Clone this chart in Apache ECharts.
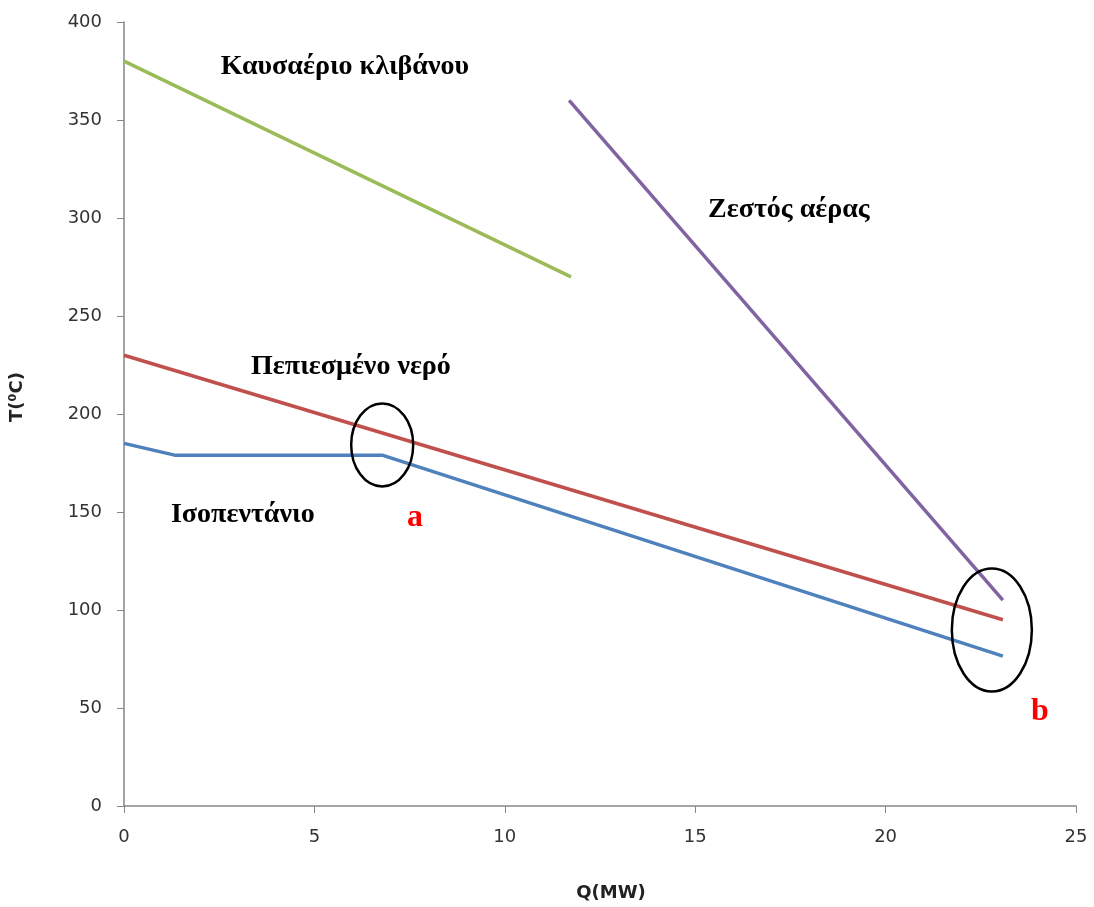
<!DOCTYPE html>
<html><head><meta charset="utf-8">
<script src="https://cdn.jsdelivr.net/npm/echarts@6/dist/echarts.min.js"></script>
<style>html,body{margin:0;padding:0;background:#fff}#c{width:1094px;height:907px}</style>
</head><body><div id="c"></div>
<script>
// Data (Q in MW, T in °C)
const gasQ = [0, 11.74];
const gasT = [380, 270];
const airQ = [11.69, 23.08];
const airT = [360, 105];
const waterQ = [0, 23.08];
const waterT = [230, 95];
const isoQ = [0, 1.33, 6.78, 23.08];
const isoT = [185, 179, 179, 76.5];
const xTicks = [0, 5, 10, 15, 20, 25];
const yTicks = [0, 50, 100, 150, 200, 250, 300, 350, 400];
// annotation labels [text, Q, T]
const labelNames = ['Καυσαέριο κλιβάνου', 'Ζεστός αέρας', 'Πεπιεσμένο νερό', 'Ισοπεντάνιο'];
const labelQ = [5.8, 17.46, 5.96, 3.12];
const labelT = [377, 304, 224, 148.5];
const markNames = ['a', 'b'];
const markQ = [7.64, 24.05];
const markT = [147, 48];
const ellipseQ = [6.78, 22.79];
const ellipseT = [184.2, 89.8];

const pts = (xs, ys) => xs.map((x, i) => [x, ys[i]]);
const chart = echarts.init(document.getElementById('c'));
const lineS = (name, color, data) => ({
  name, type: 'line', data, symbol: 'none', smooth: false,
  lineStyle: { color, width: 3.5 }, animation: false
});
chart.setOption({
  animation: false,
  grid: { left: 124, right: 18, top: 22, bottom: 101 },
  xAxis: {
    type: 'value', min: xTicks[0], max: xTicks[xTicks.length - 1], interval: 5,
    axisLine: { show: true, onZero: false, lineStyle: { color: '#868686', width: 1.5 } },
    axisTick: { show: true, length: 7, lineStyle: { color: '#868686' } },
    axisLabel: { color: '#333', fontSize: 18, fontFamily: 'DejaVu Sans', margin: 22 },
    splitLine: { show: false },
    name: 'Q(MW)', nameLocation: 'middle', nameGap: 78,
    nameTextStyle: { fontSize: 18, fontWeight: 'bold', color: '#222', fontFamily: 'DejaVu Sans', padding: [0, 0, 0, 22] }
  },
  yAxis: {
    type: 'value', min: yTicks[0], max: yTicks[yTicks.length - 1], interval: 50,
    axisLine: { show: true, lineStyle: { color: '#868686', width: 1.5 } },
    axisTick: { show: true, length: 7, lineStyle: { color: '#868686' } },
    axisLabel: { color: '#333', fontSize: 18, fontFamily: 'DejaVu Sans', margin: 22 },
    splitLine: { show: false },
    name: 'T(⁰C)', nameLocation: 'middle', nameGap: 98, nameRotate: 90,
    nameTextStyle: { fontSize: 18, fontWeight: 'bold', color: '#222', fontFamily: 'DejaVu Sans', padding: [0, 0, 0, 34] }
  },
  series: [
    lineS('gas', '#9BBB59', pts(gasQ, gasT)),
    lineS('air', '#8064A2', pts(airQ, airT)),
    lineS('water', '#C0504D', pts(waterQ, waterT)),
    lineS('iso', '#4F81BD', pts(isoQ, isoT))
  ]
});
const g = [];
labelNames.forEach((t, i) => {
  const p = chart.convertToPixel({ gridIndex: 0 }, [labelQ[i], labelT[i]]);
  g.push({ type: 'text', x: p[0], y: p[1], style: { text: t, fill: '#000', font: 'bold 28px "Liberation Serif"', align: 'center', verticalAlign: 'middle' } });
});
markNames.forEach((t, i) => {
  const p = chart.convertToPixel({ gridIndex: 0 }, [markQ[i], markT[i]]);
  g.push({ type: 'text', x: p[0], y: p[1], style: { text: t, fill: '#FF0000', font: 'bold 32px "Liberation Serif"', align: 'center', verticalAlign: 'middle' } });
});
const radii = [[31, 41.5], [40, 61.5]];
ellipseQ.forEach((q, i) => {
  const p = chart.convertToPixel({ gridIndex: 0 }, [q, ellipseT[i]]);
  g.push({ type: 'ellipse', shape: { cx: p[0], cy: p[1], rx: radii[i][0], ry: radii[i][1] }, style: { fill: null, stroke: '#000', lineWidth: 2.5 }, z: 10 });
});
chart.setOption({ graphic: g });
</script></body></html>
